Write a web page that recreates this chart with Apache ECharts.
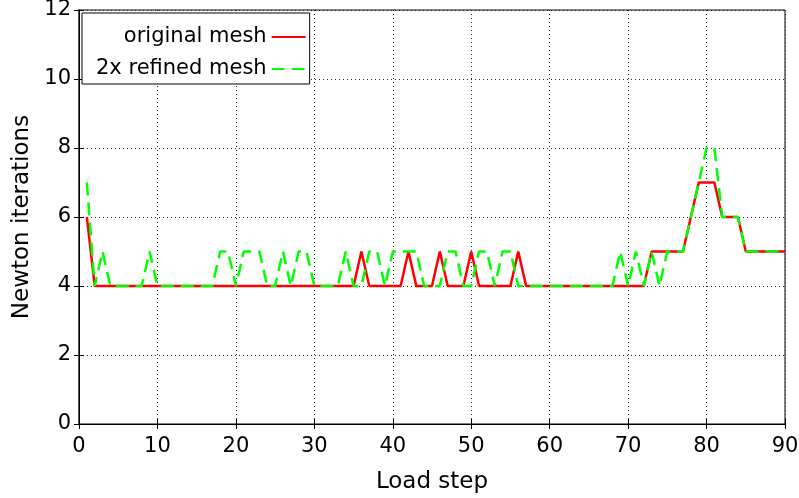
<!DOCTYPE html>
<html>
<head>
<meta charset="utf-8">
<script src="https://cdn.jsdelivr.net/npm/echarts@6/dist/echarts.min.js"></script>
<style>html,body{margin:0;padding:0;background:#fff}#c{width:799px;height:498px}</style>
</head>
<body>
<div id="c"></div>
<script>
// Load steps start at 1
const originalMesh = [
  6,4,4,4,4,4,4,4,4,4,      // 1-10
  4,4,4,4,4,4,4,4,4,4,      // 11-20
  4,4,4,4,4,4,4,4,4,4,      // 21-30
  4,4,4,4,4,5,4,4,4,4,      // 31-40
  4,5,4,4,4,5,4,4,4,5,      // 41-50
  4,4,4,4,4,5,4,4,4,4,      // 51-60
  4,4,4,4,4,4,4,4,4,4,      // 61-70
  4,4,5,5,5,5,5,6,7,7,      // 71-80
  7,6,6,6,5,5,5,5,5,5       // 81-90
];
const refinedMesh = [
  7,4,5,4,4,4,4,4,5,4,      // 1-10
  4,4,4,4,4,4,4,5,5,4,      // 11-20
  5,5,5,4,4,5,4,5,5,4,      // 21-30
  4,4,4,5,4,4,5,5,4,5,      // 31-40
  5,5,5,4,4,4,5,5,4,4,      // 41-50
  5,5,4,5,5,4,4,4,4,4,      // 51-60
  4,4,4,4,4,4,4,4,5,4,      // 61-70
  5,4,5,4,5,5,5,6,7,8,      // 71-80
  8,6,6,6,5,5,5,5,5,5       // 81-90
];
const seriesNames = ['original mesh', '2x refined mesh'];
const xTicks = [0,10,20,30,40,50,60,70,80,90];
const yTicks = [0,2,4,6,8,10,12];

const toPairs = arr => arr.map((v, i) => [i + 1, v]);
const FONT = 'DejaVu Sans';

const chart = echarts.init(document.getElementById('c'), null, {renderer: 'canvas'});
const gridLine = {show: true, lineStyle: {color: '#222', width: 1, type: [1, 3]}};
chart.setOption({
  animation: false,
  backgroundColor: '#fff',
  grid: {left: 79, right: 14, top: 10, bottom: 74, outerBoundsMode: 'none', containLabel: false,
         show: true, borderColor: '#000', borderWidth: 1, backgroundColor: 'transparent'},
  legend: {
    data: seriesNames,
    orient: 'vertical',
    align: 'right',
    left: 82, top: 13,
    padding: [12, 3, 3, 14],
    itemGap: 8,
    itemWidth: 34, itemHeight: 14,
    backgroundColor: '#fff',
    borderColor: '#000', borderWidth: 1,
    itemStyle: {opacity: 0},
    textStyle: {fontFamily: FONT, fontSize: 21, color: '#000', lineHeight: 24}
  },
  xAxis: [{
    type: 'value', min: xTicks[0], max: xTicks[xTicks.length - 1], interval: 10,
    name: 'Load step', nameLocation: 'middle', nameGap: 47,
    nameTextStyle: {fontFamily: FONT, fontSize: 23, color: '#000'},
    axisLine: {show: true, lineStyle: {color: '#000', width: 1}},
    axisTick: {show: true, inside: true, length: 5, lineStyle: {color: '#000'}},
    axisLabel: {fontFamily: FONT, fontSize: 21, color: '#000', margin: 12},
    splitLine: gridLine
  }, {
    type: 'value', position: 'top', min: xTicks[0], max: xTicks[xTicks.length - 1], interval: 10,
    axisLine: {show: true, lineStyle: {color: '#000'}},
    axisTick: {show: true, inside: true, length: 5, lineStyle: {color: '#000'}},
    axisLabel: {show: false}, splitLine: {show: false}
  }],
  yAxis: [{
    type: 'value', min: yTicks[0], max: yTicks[yTicks.length - 1], interval: 2,
    name: 'Newton iterations', nameLocation: 'middle', nameGap: 43, nameRotate: 90,
    nameTextStyle: {fontFamily: FONT, fontSize: 23, color: '#000'},
    axisLine: {show: true, lineStyle: {color: '#555', width: 2}},
    axisTick: {show: true, inside: true, length: 5, lineStyle: {color: '#000', width: 1}},
    axisLabel: {fontFamily: FONT, fontSize: 21, color: '#000', margin: 8},
    splitLine: gridLine
  }, {
    type: 'value', position: 'right', min: yTicks[0], max: yTicks[yTicks.length - 1], interval: 2,
    axisLine: {show: true, lineStyle: {color: '#000'}},
    axisTick: {show: true, inside: true, length: 5, lineStyle: {color: '#000'}},
    axisLabel: {show: false}, splitLine: {show: false}
  }],
  series: [{
    name: seriesNames[0], type: 'line', data: toPairs(originalMesh),
    symbol: 'none', lineStyle: {color: '#ff0000', width: 2.5}, itemStyle: {color: '#ff0000'}, z: 2
  }, {
    name: seriesNames[1], type: 'line', data: toPairs(refinedMesh),
    symbol: 'none', lineStyle: {color: '#00ff00', width: 2.5, type: [13, 7]}, itemStyle: {color: '#00ff00'}, z: 3
  }]
});
</script>
</body>
</html>
